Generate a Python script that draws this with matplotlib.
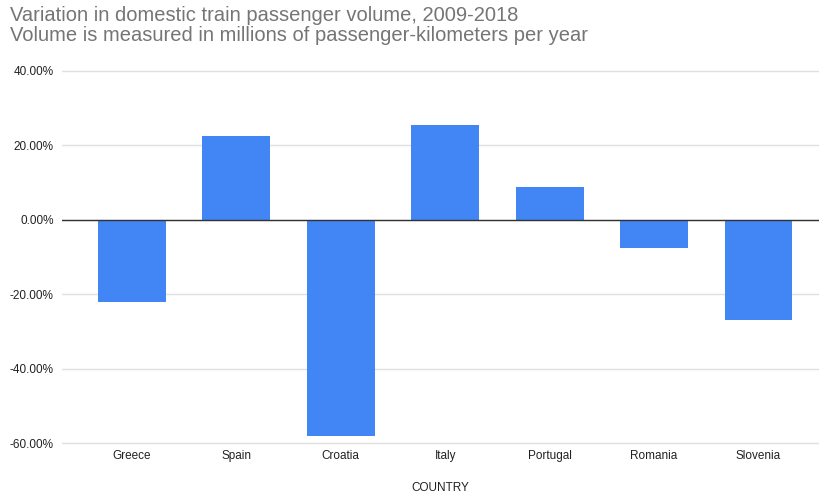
import matplotlib.pyplot as plt
from matplotlib.ticker import FuncFormatter

plt.rcParams['font.family'] = ['Liberation Sans', 'DejaVu Sans']

countries = ['Greece', 'Spain', 'Croatia', 'Italy', 'Portugal', 'Romania', 'Slovenia']
variation = [-22.1, 22.6, -58.1, 25.6, 8.9, -7.5, -26.9]

fig = plt.figure(figsize=(8.19, 4.93), dpi=100)
ax = fig.add_axes([0.0757, 0.0976, 0.9243, 0.7622])

x = range(len(countries))
ax.bar(x, variation, width=0.65, color='#4285f4', zorder=3)
ax.axhline(0, color='#333333', lw=1, zorder=4)

ax.set_ylim(-60.5, 40.5)
ax.set_xlim(-0.67, 6.58)
ax.set_yticks([-60, -40, -20, 0, 20, 40])
ax.yaxis.set_major_formatter(FuncFormatter(lambda v, p: f'{v:.2f}%'))
ax.grid(axis='y', color='#e0e0e0', lw=1, zorder=0)
ax.set_xticks(list(x))
ax.set_xticklabels(countries)
ax.tick_params(length=0, labelsize=8.5, colors='#222222', pad=6)
ax.tick_params(axis='x', pad=4)
for s in ax.spines.values():
    s.set_visible(False)

ax.set_xlabel('COUNTRY', fontsize=8.5, color='#222222', labelpad=14)

fig.text(0.012, 0.988, 'Variation in domestic train passenger volume, 2009-2018\n'
         'Volume is measured in millions of passenger-kilometers per year',
         fontsize=14.5, color='#757575', va='top', ha='left', linespacing=1.05)

fig.savefig('out.png', dpi=100)
